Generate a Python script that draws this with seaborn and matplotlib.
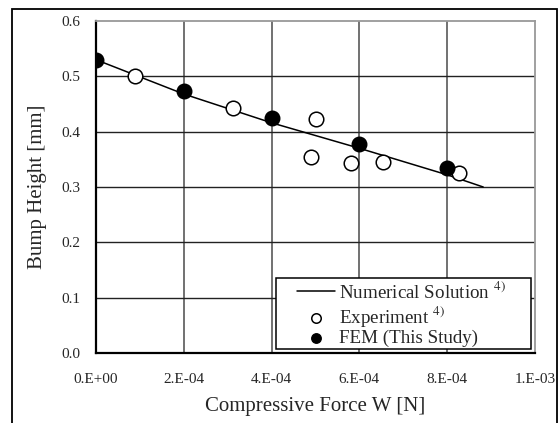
import matplotlib
matplotlib.use("Agg")
import matplotlib.pyplot as plt
import seaborn as sns
import pandas as pd
from matplotlib.patches import Rectangle

sns.set_style("white")
plt.rcParams['font.family'] = ['Liberation Serif', 'DejaVu Serif']
plt.rcParams['mathtext.fontset'] = 'stix'

# Numerical solution (line)
num_force = [0.0, 2e-4, 4e-4, 6e-4, 8e-4, 8.82e-4]
num_height = [0.530, 0.468, 0.416, 0.370, 0.322, 0.300]

# Experiment (open circles)
exp_force = [0.88e-4, 3.11e-4, 4.90e-4, 5.00e-4, 5.82e-4, 6.54e-4, 8.26e-4]
exp_height = [0.500, 0.442, 0.354, 0.422, 0.344, 0.346, 0.326]

# FEM (filled circles)
fem_force = [0.0, 2e-4, 4e-4, 6e-4, 8e-4]
fem_height = [0.530, 0.473, 0.425, 0.377, 0.334]

xticks = [0, 2e-4, 4e-4, 6e-4, 8e-4, 1e-3]
xticklabels = ["0.E+00", "2.E-04", "4.E-04", "6.E-04", "8.E-04", "1.E-03"]
yticks = [0.0, 0.1, 0.2, 0.3, 0.4, 0.5, 0.6]
yticklabels = ["0.0", "0.1", "0.2", "0.3", "0.4", "0.5", "0.6"]

df_num = pd.DataFrame({"x": num_force, "y": num_height})
df_exp = pd.DataFrame({"x": exp_force, "y": exp_height})
df_fem = pd.DataFrame({"x": fem_force, "y": fem_height})

W, H = 560, 423
fig = plt.figure(figsize=(W / 100, H / 100), dpi=100)
ax = fig.add_axes([96 / W, 1 - 353 / H, (535 - 96) / W, (353 - 21) / H])

# outer frame (bottom edge lies below the image)
fig.patches.append(Rectangle((12 / W, -0.05), (557 - 12) / W, 1.05 - 9 / H,
                             transform=fig.transFigure, fill=False,
                             edgecolor='black', linewidth=1.3, zorder=0))

for v in [2e-4, 4e-4, 6e-4, 8e-4]:
    ax.axvline(v, color='#666666', lw=1.3, zorder=0)
for v in [0.1, 0.2, 0.3, 0.4, 0.5]:
    ax.axhline(v, color='#222222', lw=1.0, zorder=0)

sns.lineplot(data=df_num, x="x", y="y", ax=ax, color='black', lw=1.1,
             label="Numerical Solution $^{4)}$", zorder=2)
sns.scatterplot(data=df_exp, x="x", y="y", ax=ax, marker='o', s=110,
                facecolor='white', edgecolor='black', linewidth=1.1,
                label="Experiment $^{4)}$", zorder=3)
sns.scatterplot(data=df_fem, x="x", y="y", ax=ax, marker='o', s=110,
                color='black', edgecolor='black', linewidth=1.0,
                label="FEM (This Study)", zorder=4)

ax.set_xlim(0, 1e-3)
ax.set_ylim(0, 0.6)
ax.set_xticks(xticks)
ax.set_xticklabels(xticklabels, fontsize=11)
ax.set_yticks(yticks)
ax.set_yticklabels(yticklabels, fontsize=11)
ax.tick_params(axis='both', direction='out', length=2.5, width=1, color='black')
ax.tick_params(axis='x', pad=12)
ax.tick_params(axis='y', pad=9)
ax.set_xlabel("Compressive Force W [N]", fontsize=15, labelpad=8)
ax.set_ylabel("Bump Height [mm]", fontsize=15, labelpad=10)

for s in ['left', 'bottom']:
    ax.spines[s].set_color('black')
    ax.spines[s].set_linewidth(1.6)
for s in ['top', 'right']:
    ax.spines[s].set_color('#999999')
    ax.spines[s].set_linewidth(1.3)

# legend box drawn separately, legend itself frameless
x0 = (276 - 96) / 439
x1 = (531 - 96) / 439
y0 = (353 - 349) / 332
y1 = (353 - 278) / 332
ax.add_patch(Rectangle((x0, y0), x1 - x0, y1 - y0, transform=ax.transAxes,
                       facecolor='white', edgecolor='black', linewidth=1.1,
                       zorder=5))
leg = ax.legend(loc='upper left', bbox_to_anchor=((297 - 96) / 439, (353 - 281) / 332),
                fontsize=13.7, frameon=False, borderpad=0, labelspacing=0.08,
                handlelength=2.0, handletextpad=0.2, borderaxespad=0,
                markerscale=0.65)
leg.set_zorder(6)

fig.savefig("out.png", dpi=100)
